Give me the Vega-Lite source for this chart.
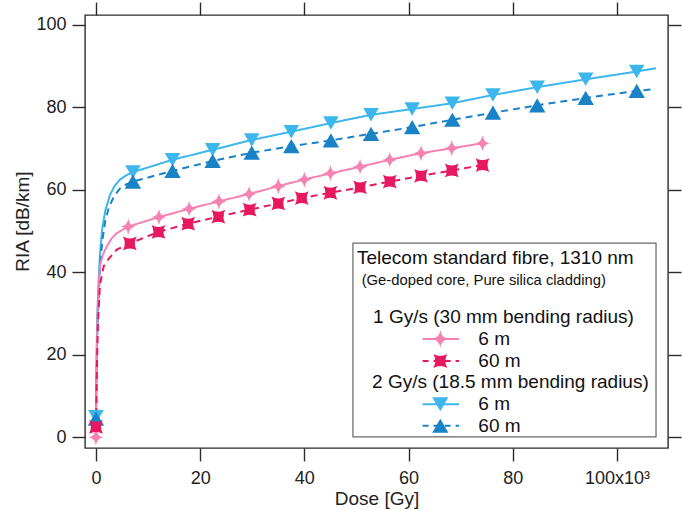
{
  "$schema": "https://vega.github.io/schema/vega-lite/v6.json",
  "width": 583,
  "height": 433,
  "autosize": {"type": "none"},
  "padding": {"left": 85, "top": 15, "right": 14, "bottom": 62},
  "background": "white",
  "config": {
    "font": "Liberation Sans",
    "view": {"stroke": "#2b2b2b", "strokeWidth": 1.4},
    "axis": {"grid": false, "domain": false, "tickColor": "#2b2b2b", "tickWidth": 1.4, "tickSize": 13, "labelColor": "#222", "titleColor": "#222", "labelFont": "Liberation Sans", "titleFont": "Liberation Sans", "titleFontWeight": "normal"}
  },
  "datasets": {
    "curves": [
      {"series": "2Gy 6m", "dose": 0, "ria": 5},
      {"series": "2Gy 6m", "dose": 100, "ria": 18},
      {"series": "2Gy 6m", "dose": 250, "ria": 29},
      {"series": "2Gy 6m", "dose": 500, "ria": 38},
      {"series": "2Gy 6m", "dose": 800, "ria": 45},
      {"series": "2Gy 6m", "dose": 1200, "ria": 50.5},
      {"series": "2Gy 6m", "dose": 1800, "ria": 55},
      {"series": "2Gy 6m", "dose": 2700, "ria": 58.8},
      {"series": "2Gy 6m", "dose": 3600, "ria": 61},
      {"series": "2Gy 6m", "dose": 4600, "ria": 62.5},
      {"series": "2Gy 6m", "dose": 5800, "ria": 63.5},
      {"series": "2Gy 6m", "dose": 7100, "ria": 64.3},
      {"series": "2Gy 6m", "dose": 14700, "ria": 67.3},
      {"series": "2Gy 6m", "dose": 22400, "ria": 69.7},
      {"series": "2Gy 6m", "dose": 29900, "ria": 72.1},
      {"series": "2Gy 6m", "dose": 37500, "ria": 74.1},
      {"series": "2Gy 6m", "dose": 45100, "ria": 76.2},
      {"series": "2Gy 6m", "dose": 52800, "ria": 78.2},
      {"series": "2Gy 6m", "dose": 60700, "ria": 79.6},
      {"series": "2Gy 6m", "dose": 68400, "ria": 81.0},
      {"series": "2Gy 6m", "dose": 76200, "ria": 83.0},
      {"series": "2Gy 6m", "dose": 84700, "ria": 84.9},
      {"series": "2Gy 6m", "dose": 94000, "ria": 86.8},
      {"series": "2Gy 6m", "dose": 103800, "ria": 88.7},
      {"series": "2Gy 6m", "dose": 107500, "ria": 89.5},
      {"series": "2Gy 60m", "dose": 0, "ria": 4.5},
      {"series": "2Gy 60m", "dose": 100, "ria": 13},
      {"series": "2Gy 60m", "dose": 250, "ria": 24},
      {"series": "2Gy 60m", "dose": 500, "ria": 33},
      {"series": "2Gy 60m", "dose": 800, "ria": 41},
      {"series": "2Gy 60m", "dose": 1200, "ria": 47.5},
      {"series": "2Gy 60m", "dose": 1800, "ria": 52.5},
      {"series": "2Gy 60m", "dose": 2500, "ria": 55.8},
      {"series": "2Gy 60m", "dose": 3500, "ria": 58.5},
      {"series": "2Gy 60m", "dose": 4600, "ria": 60.3},
      {"series": "2Gy 60m", "dose": 5800, "ria": 61.3},
      {"series": "2Gy 60m", "dose": 7100, "ria": 62.0},
      {"series": "2Gy 60m", "dose": 14700, "ria": 64.6},
      {"series": "2Gy 60m", "dose": 22400, "ria": 67.0},
      {"series": "2Gy 60m", "dose": 29900, "ria": 69.0},
      {"series": "2Gy 60m", "dose": 37500, "ria": 70.6},
      {"series": "2Gy 60m", "dose": 45100, "ria": 72.0},
      {"series": "2Gy 60m", "dose": 52800, "ria": 73.6},
      {"series": "2Gy 60m", "dose": 60700, "ria": 75.2},
      {"series": "2Gy 60m", "dose": 68400, "ria": 77.0},
      {"series": "2Gy 60m", "dose": 76200, "ria": 78.7},
      {"series": "2Gy 60m", "dose": 84700, "ria": 80.5},
      {"series": "2Gy 60m", "dose": 94000, "ria": 82.3},
      {"series": "2Gy 60m", "dose": 103800, "ria": 84.0},
      {"series": "2Gy 60m", "dose": 107000, "ria": 84.4},
      {"series": "1Gy 6m", "dose": 0, "ria": 0},
      {"series": "1Gy 6m", "dose": 80, "ria": 12},
      {"series": "1Gy 6m", "dose": 200, "ria": 24},
      {"series": "1Gy 6m", "dose": 400, "ria": 33},
      {"series": "1Gy 6m", "dose": 770, "ria": 41.4},
      {"series": "1Gy 6m", "dose": 1300, "ria": 44.2},
      {"series": "1Gy 6m", "dose": 2050, "ria": 46.2},
      {"series": "1Gy 6m", "dose": 3000, "ria": 48.2},
      {"series": "1Gy 6m", "dose": 4000, "ria": 49.5},
      {"series": "1Gy 6m", "dose": 6200, "ria": 51.1},
      {"series": "1Gy 6m", "dose": 12100, "ria": 53.4},
      {"series": "1Gy 6m", "dose": 17900, "ria": 55.4},
      {"series": "1Gy 6m", "dose": 23600, "ria": 57.2},
      {"series": "1Gy 6m", "dose": 29400, "ria": 59.0},
      {"series": "1Gy 6m", "dose": 35000, "ria": 60.9},
      {"series": "1Gy 6m", "dose": 40000, "ria": 62.5},
      {"series": "1Gy 6m", "dose": 45000, "ria": 64.0},
      {"series": "1Gy 6m", "dose": 50700, "ria": 65.6},
      {"series": "1Gy 6m", "dose": 56400, "ria": 67.3},
      {"series": "1Gy 6m", "dose": 62400, "ria": 68.9},
      {"series": "1Gy 6m", "dose": 68300, "ria": 70.1},
      {"series": "1Gy 6m", "dose": 74200, "ria": 71.3},
      {"series": "1Gy 60m", "dose": 0, "ria": 2.5},
      {"series": "1Gy 60m", "dose": 80, "ria": 8},
      {"series": "1Gy 60m", "dose": 200, "ria": 18},
      {"series": "1Gy 60m", "dose": 400, "ria": 28},
      {"series": "1Gy 60m", "dose": 770, "ria": 37},
      {"series": "1Gy 60m", "dose": 1500, "ria": 41.5},
      {"series": "1Gy 60m", "dose": 2400, "ria": 43.2},
      {"series": "1Gy 60m", "dose": 4000, "ria": 45.5},
      {"series": "1Gy 60m", "dose": 6500, "ria": 47.0},
      {"series": "1Gy 60m", "dose": 12000, "ria": 49.8},
      {"series": "1Gy 60m", "dose": 17700, "ria": 51.8},
      {"series": "1Gy 60m", "dose": 23500, "ria": 53.5},
      {"series": "1Gy 60m", "dose": 29500, "ria": 55.2},
      {"series": "1Gy 60m", "dose": 35000, "ria": 56.7},
      {"series": "1Gy 60m", "dose": 39500, "ria": 58.0},
      {"series": "1Gy 60m", "dose": 45000, "ria": 59.3},
      {"series": "1Gy 60m", "dose": 50700, "ria": 60.6},
      {"series": "1Gy 60m", "dose": 56400, "ria": 62.0},
      {"series": "1Gy 60m", "dose": 62400, "ria": 63.4},
      {"series": "1Gy 60m", "dose": 68300, "ria": 64.7},
      {"series": "1Gy 60m", "dose": 74200, "ria": 66.0}
    ],
    "markers": [
      {"series": "2Gy 6m", "dose": 0, "ria": 5},
      {"series": "2Gy 6m", "dose": 7100, "ria": 64.3},
      {"series": "2Gy 6m", "dose": 14700, "ria": 67.3},
      {"series": "2Gy 6m", "dose": 22400, "ria": 69.7},
      {"series": "2Gy 6m", "dose": 29900, "ria": 72.1},
      {"series": "2Gy 6m", "dose": 37500, "ria": 74.1},
      {"series": "2Gy 6m", "dose": 45100, "ria": 76.2},
      {"series": "2Gy 6m", "dose": 52800, "ria": 78.2},
      {"series": "2Gy 6m", "dose": 60700, "ria": 79.6},
      {"series": "2Gy 6m", "dose": 68400, "ria": 81.0},
      {"series": "2Gy 6m", "dose": 76200, "ria": 83.0},
      {"series": "2Gy 6m", "dose": 84700, "ria": 84.9},
      {"series": "2Gy 6m", "dose": 94000, "ria": 86.8},
      {"series": "2Gy 6m", "dose": 103800, "ria": 88.7},
      {"series": "2Gy 60m", "dose": 0, "ria": 4.5},
      {"series": "2Gy 60m", "dose": 7100, "ria": 62.0},
      {"series": "2Gy 60m", "dose": 14700, "ria": 64.6},
      {"series": "2Gy 60m", "dose": 22400, "ria": 67.0},
      {"series": "2Gy 60m", "dose": 29900, "ria": 69.0},
      {"series": "2Gy 60m", "dose": 37500, "ria": 70.6},
      {"series": "2Gy 60m", "dose": 45100, "ria": 72.0},
      {"series": "2Gy 60m", "dose": 52800, "ria": 73.6},
      {"series": "2Gy 60m", "dose": 60700, "ria": 75.2},
      {"series": "2Gy 60m", "dose": 68400, "ria": 77.0},
      {"series": "2Gy 60m", "dose": 76200, "ria": 78.7},
      {"series": "2Gy 60m", "dose": 84700, "ria": 80.5},
      {"series": "2Gy 60m", "dose": 94000, "ria": 82.3},
      {"series": "2Gy 60m", "dose": 103800, "ria": 84.0},
      {"series": "1Gy 6m", "dose": 0, "ria": 0},
      {"series": "1Gy 6m", "dose": 6200, "ria": 51.1},
      {"series": "1Gy 6m", "dose": 12100, "ria": 53.4},
      {"series": "1Gy 6m", "dose": 17900, "ria": 55.4},
      {"series": "1Gy 6m", "dose": 23600, "ria": 57.2},
      {"series": "1Gy 6m", "dose": 29400, "ria": 59.0},
      {"series": "1Gy 6m", "dose": 35000, "ria": 60.9},
      {"series": "1Gy 6m", "dose": 40000, "ria": 62.5},
      {"series": "1Gy 6m", "dose": 45000, "ria": 64.0},
      {"series": "1Gy 6m", "dose": 50700, "ria": 65.6},
      {"series": "1Gy 6m", "dose": 56400, "ria": 67.3},
      {"series": "1Gy 6m", "dose": 62400, "ria": 68.9},
      {"series": "1Gy 6m", "dose": 68300, "ria": 70.1},
      {"series": "1Gy 6m", "dose": 74200, "ria": 71.3},
      {"series": "1Gy 60m", "dose": 0, "ria": 2.5},
      {"series": "1Gy 60m", "dose": 6500, "ria": 47.0},
      {"series": "1Gy 60m", "dose": 12000, "ria": 49.8},
      {"series": "1Gy 60m", "dose": 17700, "ria": 51.8},
      {"series": "1Gy 60m", "dose": 23500, "ria": 53.5},
      {"series": "1Gy 60m", "dose": 29500, "ria": 55.2},
      {"series": "1Gy 60m", "dose": 35000, "ria": 56.7},
      {"series": "1Gy 60m", "dose": 39500, "ria": 58.0},
      {"series": "1Gy 60m", "dose": 45000, "ria": 59.3},
      {"series": "1Gy 60m", "dose": 50700, "ria": 60.6},
      {"series": "1Gy 60m", "dose": 56400, "ria": 62.0},
      {"series": "1Gy 60m", "dose": 62400, "ria": 63.4},
      {"series": "1Gy 60m", "dose": 68300, "ria": 64.7},
      {"series": "1Gy 60m", "dose": 74200, "ria": 66.0}
    ],
    "one": [{}]
  },
  "resolve": {"axis": {"x": "independent", "y": "independent"}},
  "layer": [
    {
      "data": {"name": "curves"},
      "mark": {"type": "line", "strokeWidth": 2, "clip": true},
      "encoding": {
        "x": {"field": "dose", "type": "quantitative",
              "scale": {"domain": [-2100, 109800], "nice": false, "zero": false},
              "axis": {"orient": "bottom", "values": [0, 20000, 40000, 60000, 80000, 100000],
                       "labelExpr": "datum.value == 100000 ? '100x10³' : format(datum.value / 1000, 'd')",
                       "labelFontSize": 18, "labelPadding": 8, "title": "Dose [Gy]", "titleFontSize": 19, "titlePadding": 2}},
        "y": {"field": "ria", "type": "quantitative",
              "scale": {"domain": [-2.6, 102.4], "nice": false, "zero": false},
              "axis": {"orient": "left", "values": [0, 20, 40, 60, 80, 100], "labelFontSize": 18, "labelPadding": 6,
                       "title": "RIA [dB/km]", "titleFontSize": 19, "titlePadding": 3, "titleY": 206}},
        "color": {"field": "series", "type": "nominal", "legend": null,
                  "scale": {"domain": ["1Gy 60m", "1Gy 6m", "2Gy 6m", "2Gy 60m"], "range": ["#e8185e", "#f582b2", "#3db6ee", "#1a82c6"]}},
        "strokeDash": {"field": "series", "type": "nominal", "legend": null,
                       "scale": {"domain": ["1Gy 60m", "1Gy 6m", "2Gy 6m", "2Gy 60m"], "range": [[7, 5], [1, 0], [1, 0], [7, 5]]}}
      }
    },
    {
      "data": {"name": "markers"},
      "mark": {"type": "point", "filled": true, "opacity": 1, "clip": true},
      "encoding": {
        "x": {"field": "dose", "type": "quantitative",
              "axis": {"orient": "top", "values": [0, 20000, 40000, 60000, 80000, 100000], "labels": false, "title": null}},
        "y": {"field": "ria", "type": "quantitative",
              "axis": {"orient": "right", "values": [0, 20, 40, 60, 80, 100], "labels": false, "title": null}},
        "color": {"field": "series", "type": "nominal", "legend": null},
        "shape": {"field": "series", "type": "nominal", "legend": null,
                  "scale": {"domain": ["1Gy 60m", "1Gy 6m", "2Gy 6m", "2Gy 60m"],
                            "range": ["M-1,-1 Q0,-0.45 1,-1 Q0.45,0 1,1 Q0,0.45 -1,1 Q-0.45,0 -1,-1 Z",
                                      "M0,-1.1 Q0.14,-0.14 1,0 Q0.14,0.14 0,1.1 Q-0.14,0.14 -1,0 Q-0.14,-0.14 0,-1.1 Z",
                                      "triangle-down", "triangle-up"]}},
        "size": {"field": "series", "type": "nominal", "legend": null,
                 "scale": {"domain": ["1Gy 60m", "1Gy 6m", "2Gy 6m", "2Gy 60m"], "range": [190, 270, 260, 260]}}
      }
    },
    {
      "data": {"name": "one"},
      "mark": {"type": "rect", "fill": "white", "stroke": "#666", "strokeWidth": 1.2},
      "encoding": {
        "x": {"datum": 49330, "type": "quantitative", "axis": null},
        "x2": {"datum": 107500},
        "y": {"datum": 0.1, "type": "quantitative", "axis": null},
        "y2": {"datum": 47.1}
      }
    },
    {
      "data": {"name": "one"},
      "mark": {"type": "text", "text": "Telecom standard fibre, 1310 nm", "align": "left", "baseline": "middle", "fontSize": 19, "color": "#111"},
      "encoding": {"x": {"datum": 50100, "type": "quantitative", "axis": null}, "y": {"datum": 43.56, "type": "quantitative", "axis": null}}
    },
    {
      "data": {"name": "one"},
      "mark": {"type": "text", "text": "(Ge-doped core, Pure silica cladding)", "align": "left", "baseline": "middle", "fontSize": 14.8, "color": "#111"},
      "encoding": {"x": {"datum": 51000, "type": "quantitative", "axis": null}, "y": {"datum": 37.9, "type": "quantitative", "axis": null}}
    },
    {
      "data": {"name": "one"},
      "mark": {"type": "text", "text": "1 Gy/s (30 mm bending radius)", "align": "left", "baseline": "middle", "fontSize": 19, "color": "#111"},
      "encoding": {"x": {"datum": 53200, "type": "quantitative", "axis": null}, "y": {"datum": 29.25, "type": "quantitative", "axis": null}}
    },
    {
      "data": {"name": "one"},
      "mark": {"type": "text", "text": "2 Gy/s (18.5 mm bending radius)", "align": "left", "baseline": "middle", "fontSize": 19, "color": "#111"},
      "encoding": {"x": {"datum": 53000, "type": "quantitative", "axis": null}, "y": {"datum": 13.5, "type": "quantitative", "axis": null}}
    },
    {
      "data": {"name": "one"},
      "mark": {"type": "rule", "strokeWidth": 2, "color": "#f582b2"},
      "encoding": {"x": {"datum": 62700, "type": "quantitative", "axis": null}, "x2": {"datum": 69700}, "y": {"datum": 23.84, "type": "quantitative", "axis": null}}
    },
    {
      "data": {"name": "one"},
      "mark": {"type": "rule", "strokeWidth": 2, "color": "#e8185e", "strokeDash": [6, 5]},
      "encoding": {"x": {"datum": 62700, "type": "quantitative", "axis": null}, "x2": {"datum": 69700}, "y": {"datum": 18.5, "type": "quantitative", "axis": null}}
    },
    {
      "data": {"name": "one"},
      "mark": {"type": "rule", "strokeWidth": 2, "color": "#3db6ee"},
      "encoding": {"x": {"datum": 62700, "type": "quantitative", "axis": null}, "x2": {"datum": 69700}, "y": {"datum": 8.0, "type": "quantitative", "axis": null}}
    },
    {
      "data": {"name": "one"},
      "mark": {"type": "rule", "strokeWidth": 2, "color": "#1a82c6", "strokeDash": [6, 5]},
      "encoding": {"x": {"datum": 62700, "type": "quantitative", "axis": null}, "x2": {"datum": 69700}, "y": {"datum": 2.81, "type": "quantitative", "axis": null}}
    },
    {
      "data": {"name": "one"},
      "mark": {"type": "point", "filled": true, "opacity": 1, "color": "#f582b2", "size": 270, "shape": "M0,-1.1 Q0.14,-0.14 1,0 Q0.14,0.14 0,1.1 Q-0.14,0.14 -1,0 Q-0.14,-0.14 0,-1.1 Z"},
      "encoding": {"x": {"datum": 66100, "type": "quantitative", "axis": null}, "y": {"datum": 23.84, "type": "quantitative", "axis": null}}
    },
    {
      "data": {"name": "one"},
      "mark": {"type": "point", "filled": true, "opacity": 1, "color": "#e8185e", "size": 190, "shape": "M-1,-1 Q0,-0.45 1,-1 Q0.45,0 1,1 Q0,0.45 -1,1 Q-0.45,0 -1,-1 Z"},
      "encoding": {"x": {"datum": 66100, "type": "quantitative", "axis": null}, "y": {"datum": 18.5, "type": "quantitative", "axis": null}}
    },
    {
      "data": {"name": "one"},
      "mark": {"type": "point", "filled": true, "opacity": 1, "color": "#3db6ee", "size": 260, "shape": "triangle-down"},
      "encoding": {"x": {"datum": 66100, "type": "quantitative", "axis": null}, "y": {"datum": 8.0, "type": "quantitative", "axis": null}}
    },
    {
      "data": {"name": "one"},
      "mark": {"type": "point", "filled": true, "opacity": 1, "color": "#1a82c6", "size": 260, "shape": "triangle-up"},
      "encoding": {"x": {"datum": 66100, "type": "quantitative", "axis": null}, "y": {"datum": 2.81, "type": "quantitative", "axis": null}}
    },
    {
      "data": {"name": "one"},
      "mark": {"type": "text", "text": "6 m", "align": "left", "baseline": "middle", "fontSize": 19, "color": "#111"},
      "encoding": {"x": {"datum": 73400, "type": "quantitative", "axis": null}, "y": {"datum": 23.84, "type": "quantitative", "axis": null}}
    },
    {
      "data": {"name": "one"},
      "mark": {"type": "text", "text": "60 m", "align": "left", "baseline": "middle", "fontSize": 19, "color": "#111"},
      "encoding": {"x": {"datum": 73400, "type": "quantitative", "axis": null}, "y": {"datum": 18.5, "type": "quantitative", "axis": null}}
    },
    {
      "data": {"name": "one"},
      "mark": {"type": "text", "text": "6 m", "align": "left", "baseline": "middle", "fontSize": 19, "color": "#111"},
      "encoding": {"x": {"datum": 73400, "type": "quantitative", "axis": null}, "y": {"datum": 8.0, "type": "quantitative", "axis": null}}
    },
    {
      "data": {"name": "one"},
      "mark": {"type": "text", "text": "60 m", "align": "left", "baseline": "middle", "fontSize": 19, "color": "#111"},
      "encoding": {"x": {"datum": 73400, "type": "quantitative", "axis": null}, "y": {"datum": 2.81, "type": "quantitative", "axis": null}}
    }
  ]
}
